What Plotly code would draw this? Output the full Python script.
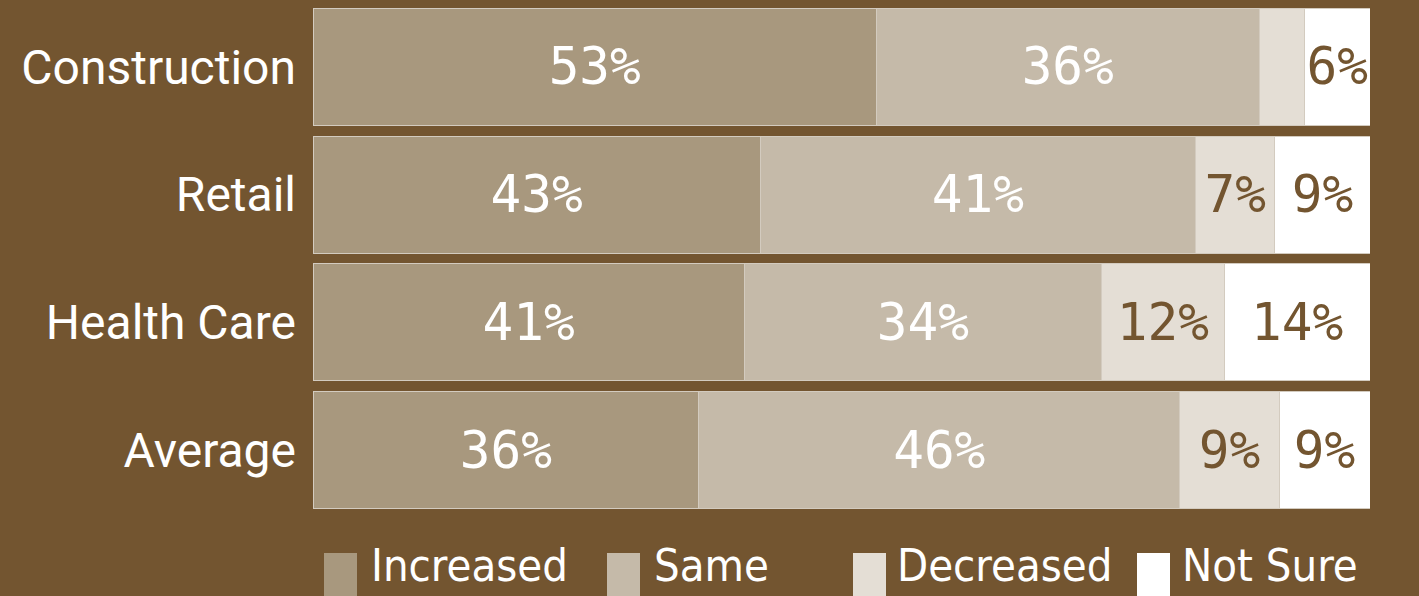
import plotly.graph_objects as go

categories = ["Construction", "Retail", "Health Care", "Average"]
series_names = ["Increased", "Same", "Decreased", "Not Sure"]
increased = [53.3, 42.3, 40.8, 36.5]
same = [36.2, 41.2, 33.8, 45.5]
decreased = [4.3, 7.5, 11.6, 9.4]
not_sure = [6.2, 9.0, 13.8, 8.6]
labels_increased = ["53%", "43%", "41%", "36%"]
labels_same = ["36%", "41%", "34%", "46%"]
labels_decreased = ["", "7%", "12%", "9%"]
labels_not_sure = ["6%", "9%", "14%", "9%"]

BG = "#735530"
colors = ["#a8987e", "#c5baa9", "#e4ded5", "#ffffff"]
text_colors = ["#ffffff", "#ffffff", BG, BG]

W, H = 1419, 596
ML, MR, MT, MB = 313, 49, 3, 82

fig = go.Figure()
for name, vals, labs, col, tcol in zip(
    series_names,
    [increased, same, decreased, not_sure],
    [labels_increased, labels_same, labels_decreased, labels_not_sure],
    colors, text_colors,
):
    fig.add_trace(go.Bar(
        name=name, y=categories, x=vals, orientation="h",
        marker=dict(color=col, line=dict(color="#d3cbbf", width=1)),
        text=labs, textposition="inside", insidetextanchor="middle",
        textangle=0, constraintext="none", cliponaxis=False,
        textfont=dict(family="DejaVu Sans Mono", size=51, color=tcol),
        showlegend=False, hoverinfo="skip",
    ))

# manual legend
plot_w = W - ML - MR
plot_h = H - MT - MB
def px2x(px):
    return (px - ML) / plot_w
def py2y(py):
    return (H - MB - py) / plot_h

legend_sq_left = [324, 607, 853, 1137]
legend_txt_left = [369, 652, 895, 1180]
shapes = []
annotations = []
for name, col, sx, tx in zip(series_names, colors, legend_sq_left, legend_txt_left):
    shapes.append(dict(type="rect", xref="paper", yref="paper",
                       x0=px2x(sx), x1=px2x(sx + 33), y0=py2y(553), y1=py2y(600),
                       fillcolor=col, line=dict(width=0), layer="above"))
    annotations.append(dict(text=name, xref="paper", yref="paper",
                            x=px2x(tx), y=py2y(565), xanchor="left", yanchor="middle",
                            showarrow=False,
                            font=dict(family="DejaVu Sans Condensed, Roboto",
                                      size=45, color="#ffffff")))

fig.update_layout(
    width=W, height=H,
    margin=dict(l=ML, r=MR, t=MT, b=MB, pad=0),
    paper_bgcolor=BG, plot_bgcolor=BG,
    barmode="stack", bargap=0.086,
    xaxis=dict(range=[0, 100], visible=False, fixedrange=True),
    yaxis=dict(autorange="reversed", showgrid=False, zeroline=False, showline=False,
               ticks="", ticklabelstandoff=16, fixedrange=True,
               tickfont=dict(family="Roboto", size=48, color="#ffffff")),
    shapes=shapes, annotations=annotations,
)

fig.write_html("out.html", config={"displayModeBar": False},
               post_script="document.body.style.margin='0';document.body.style.background='%s';" % BG)
